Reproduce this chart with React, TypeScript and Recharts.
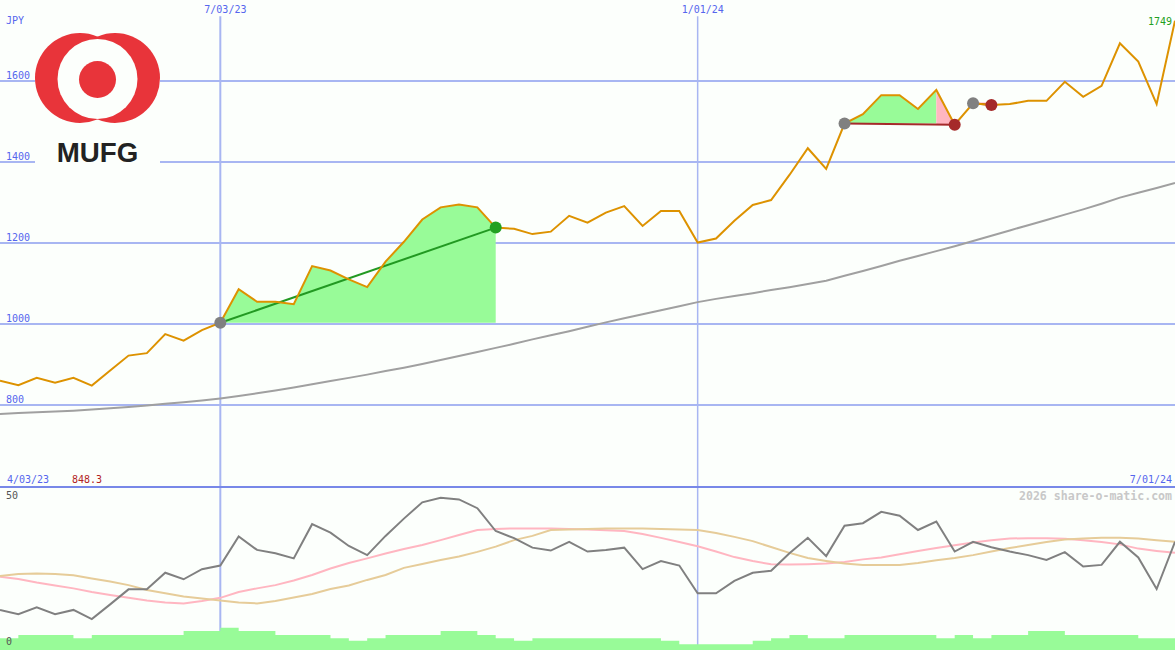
import { ComposedChart, Line, Area, XAxis, YAxis, ReferenceLine } from "recharts"

// weekly closes, 4/03/23 .. 7/01/24
const price = [
  860, 849, 867, 855, 867, 848, 885, 922, 928, 975, 959, 985, 1003,
  1086, 1055, 1055, 1049, 1143, 1132, 1110, 1091, 1154, 1203, 1258, 1288, 1295, 1288, 1238,
  1235, 1222, 1228, 1267, 1250, 1275, 1291, 1242, 1279, 1279, 1201, 1211,
  1255, 1294, 1306, 1368, 1434, 1383, 1495, 1518, 1565, 1565, 1531, 1578, 1492,
  1545, 1541, 1543, 1551, 1551, 1598, 1561, 1588, 1693, 1648, 1543, 1749
]

const movingAvg = [
  778, 780, 782, 784, 786, 789, 792, 795, 799, 803, 807, 811, 816,
  822, 829, 836, 843, 851, 859, 867, 875, 884, 892, 901, 911, 921, 931, 941,
  951, 962, 972, 982, 993, 1004, 1014, 1024, 1034, 1044, 1054,
  1062, 1069, 1076, 1084, 1091, 1099, 1107, 1119, 1131, 1143, 1156, 1168, 1180, 1192,
  1205, 1218, 1231, 1244, 1257, 1270, 1283, 1297, 1312, 1324, 1336, 1348
]

const oscillator = [
  12.3, 11.0, 13.1, 11.0, 12.3, 9.5, 14.0, 18.6, 18.6, 23.7,
  21.7, 24.8, 25.9, 34.8, 30.7, 29.7, 28.1, 38.6, 36.0, 31.9,
  29.1, 35.0, 40.3, 45.3, 46.7, 46.2, 43.5, 36.5, 34.3, 31.4,
  30.5, 33.2, 30.2, 30.7, 31.4, 24.8, 27.3, 25.9, 17.4, 17.4,
  21.2, 23.7, 24.3, 29.7, 34.4, 28.8, 38.1, 38.9, 42.4, 41.2,
  36.8, 39.4, 30.2, 33.2, 31.5, 30.2, 29.1, 27.6, 30.0, 25.6,
  26.1, 33.2, 28.4, 18.7, 33.2
]

const signalFast = [
  22.5, 21.8, 20.7, 19.8, 18.9, 17.8, 16.9, 16.0, 15.2, 14.6,
  14.3, 15.0, 16.0, 17.8, 18.9, 19.9, 21.3, 23.0, 25.0, 26.7,
  28.1, 29.6, 31.0, 32.2, 33.7, 35.3, 36.8, 37.1, 37.3, 37.3,
  37.3, 37.1, 37.0, 36.7, 36.5, 35.6, 34.4, 33.1, 31.8, 30.2,
  28.5, 27.3, 26.3, 26.2, 26.3, 26.5, 27.0, 27.8, 28.4, 29.4,
  30.4, 31.3, 32.1, 33.0, 33.7, 34.2, 34.3, 34.3, 34.1, 33.7,
  33.1, 32.4, 31.1, 30.4, 29.8
]

const signalSlow = [
  22.7, 23.3, 23.5, 23.3, 22.9, 21.9, 21.0, 19.9, 18.4, 17.4,
  16.4, 15.8, 15.2, 14.6, 14.3, 15.0, 16.1, 17.2, 18.7, 19.8,
  21.5, 23.0, 25.2, 26.4, 27.6, 28.7, 30.1, 31.7, 33.7, 35.0,
  36.8, 37.0, 37.1, 37.3, 37.3, 37.3, 37.1, 37.0, 36.8, 35.9,
  34.7, 33.4, 31.6, 29.8, 28.2, 27.3, 26.5, 26.1, 26.1, 26.1,
  26.7, 27.5, 28.2, 29.1, 30.2, 31.3, 32.2, 33.1, 33.9, 34.2,
  34.4, 34.4, 34.2, 33.7, 33.2
]

const volume = [
  3.6, 4.6, 4.6, 4.6, 3.6, 4.6, 4.6, 4.6, 4.6, 4.6,
  5.8, 5.8, 6.8, 5.8, 5.8, 4.6, 4.6, 4.6, 3.6, 2.8,
  3.6, 4.6, 4.6, 4.6, 5.8, 5.8, 4.6, 3.6, 2.8, 3.6,
  3.6, 3.6, 3.6, 3.6, 3.6, 3.6, 2.8, 1.8, 1.8, 1.8,
  1.8, 2.8, 3.6, 4.6, 3.6, 3.6, 4.6, 4.6, 4.6, 4.6,
  4.6, 3.6, 4.6, 3.6, 4.6, 4.6, 5.8, 5.8, 4.6, 4.6,
  4.6, 4.6, 3.6, 3.6, 3.6
]

const priceGrid = [800, 1000, 1200, 1400, 1600]
const dateLines = [12, 38]
const dateLabels = ["7/03/23", "1/01/24"]

// trades: entry / exit week index and price
const tradeEntry = [12, 46, 53]
const tradeExit = [27, 52, 54]
const tradeEntryPrice = [1003, 1495, 1545]
const tradeExitPrice = [1238, 1492, 1541]
const tradeWin = [true, false, false]

// shaded segments [from, to, level]
const gainFills = [[12, 27, 1003], [46, 51, 1495]]
const lossFills = [[51, 52, 1493], [53, 54, 1547]]

const BG = "#FCFFFC"
const GRID = "#A8B6F2"
const BLUE = "#5566EE"
const ORANGE = "#DD9200"
const FONT = "'DejaVu Sans Mono', monospace"

const rows = price.map((p, i) => {
  const row: any = { i, price: p, ma: movingAvg[i], osc: oscillator[i], fast: signalFast[i], slow: signalSlow[i], vol: volume[i] }
  gainFills.forEach(([a, b, lv], k) => {
    row["g" + k] = i >= a && i <= b ? [lv, p] : null
  })
  lossFills.forEach(([a, b, lv], k) => {
    row["l" + k] = i >= a && i <= b ? [lv, p] : null
  })
  tradeEntry.forEach((e, t) => {
    row["t" + t] = i === e ? tradeEntryPrice[t] : i === tradeExit[t] ? tradeExitPrice[t] : null
  })
  return row
})

function tradeDot(t: number) {
  return (props: any) => {
    const { cx, cy, payload, index } = props
    if (cy == null || payload["t" + t] == null) return <g key={"d" + t + "-" + index} />
    const fill = payload.i === tradeEntry[t] ? "#808080" : tradeWin[t] ? "#22A022" : "#A52A2A"
    return <circle key={"d" + t + "-" + index} cx={cx} cy={cy} r={6} fill={fill} />
  }
}

const gridLabel = (text: string) => (props: any) => (
  <text x={props.viewBox.x + 6} y={props.viewBox.y - 2} fill={BLUE} fontSize={10} fontFamily={FONT}>
    {text}
  </text>
)

const dateLabel = (text: string) => (props: any) => (
  <text x={props.viewBox.x - 16} y={props.viewBox.y - 3} fill={BLUE} fontSize={10} fontFamily={FONT}>
    {text}
  </text>
)

export default function App() {
  return (
    <div style={{ position: "relative", width: 1175, height: 650, background: BG, overflow: "hidden" }}>
      <style>{"body{margin:0}"}</style>

      <div style={{ position: "absolute", left: 0, top: 0 }}>
        <ComposedChart width={1175} height={486} data={rows} margin={{ top: 0, right: 0, bottom: 0, left: 0 }}>
          <XAxis type="number" dataKey="i" domain={[0, 64]} hide />
          <YAxis type="number" domain={[600, 1800]} hide />

          {priceGrid.map((v) => (
            <ReferenceLine key={v} y={v} stroke={GRID} strokeWidth={2} zIndex={-10} label={gridLabel(String(v))} />
          ))}
          {dateLines.map((x, k) => (
            <ReferenceLine
              key={x}
              segment={[{ x, y: 1760 }, { x, y: 600 }]}
              stroke={GRID}
              strokeWidth={k === 0 ? 2 : 1.5}
              zIndex={-10}
              label={dateLabel(dateLabels[k])}
            />
          ))}

          <Line dataKey="ma" type="linear" stroke="#A0A0A0" strokeWidth={2} dot={false} activeDot={false} isAnimationActive={false} />

          {gainFills.map((_, k) => (
            <Area key={"g" + k} dataKey={"g" + k} type="linear" stroke="none" fill="#98FB98" fillOpacity={1} dot={false} activeDot={false} isAnimationActive={false} />
          ))}
          {lossFills.map((_, k) => (
            <Area key={"l" + k} dataKey={"l" + k} type="linear" stroke="none" fill="#FFB6C1" fillOpacity={1} dot={false} activeDot={false} isAnimationActive={false} />
          ))}

          {tradeEntry.map((_, t) => (
            <Line
              key={"t" + t}
              dataKey={"t" + t}
              type="linear"
              connectNulls
              stroke={tradeWin[t] ? "#229922" : "#A52A2A"}
              strokeWidth={2}
              dot={tradeDot(t)}
              activeDot={false}
              isAnimationActive={false}
            />
          ))}

          <Line dataKey="price" type="linear" stroke={ORANGE} strokeWidth={2} dot={false} activeDot={false} isAnimationActive={false} />
        </ComposedChart>
      </div>

      <div style={{ position: "absolute", left: 0, top: 486 }}>
        <ComposedChart width={1175} height={164} data={rows} margin={{ top: 1, right: 0, bottom: 0, left: 0 }}>
          <XAxis type="number" dataKey="i" domain={[0, 64]} hide />
          <YAxis type="number" domain={[0, 50]} hide />

          {dateLines.map((x, k) => (
            <ReferenceLine key={x} x={x} stroke={GRID} strokeWidth={k === 0 ? 2 : 1.5} zIndex={-10} />
          ))}
          <ReferenceLine y={50} stroke="#7888E8" strokeWidth={2} />

          <Area dataKey="vol" type="stepAfter" stroke="none" fill="#98FB98" fillOpacity={1} baseValue={0} dot={false} activeDot={false} isAnimationActive={false} />

          <Line dataKey="fast" type="linear" stroke="#FFB6C1" strokeWidth={2} dot={false} activeDot={false} isAnimationActive={false} />
          <Line dataKey="slow" type="linear" stroke="#E6CC99" strokeWidth={2} dot={false} activeDot={false} isAnimationActive={false} />
          <Line dataKey="osc" type="linear" stroke="#808080" strokeWidth={2} dot={false} activeDot={false} isAnimationActive={false} />
        </ComposedChart>
      </div>

      <svg width={1175} height={650} style={{ position: "absolute", left: 0, top: 0, pointerEvents: "none" }}>
        {/* logo */}
        <rect x={35} y={28} width={125} height={140} fill={BG} />
        <circle cx={80} cy={78} r={45} fill="#E8343A" />
        <circle cx={115} cy={78} r={45} fill="#E8343A" />
        <circle cx={97.5} cy={79} r={40} fill={BG} />
        <circle cx={97.5} cy={79.5} r={18.5} fill="#E8343A" />
        <text x={56.7} y={161.5} fontFamily="'Liberation Sans', Arial, sans-serif" fontWeight="bold" fontSize={28} fill="#222" textLength={81.5} lengthAdjust="spacingAndGlyphs">
          MUFG
        </text>

        <g fontFamily={FONT} fontSize={10}>
          <text x={6} y={24} fill={BLUE}>JPY</text>
          <text x={1172} y={25} fill="#22A022" textAnchor="end">1749</text>
          <text x={7} y={483} fill={BLUE}>4/03/23</text>
          <text x={72} y={483} fill="#B22222">848.3</text>
          <text x={1172} y={483} fill={BLUE} textAnchor="end">7/01/24</text>
          <text x={6} y={499} fill="#555">50</text>
          <text x={6} y={645} fill="#555">0</text>
        </g>
        <text x={1172} y={500} fontFamily={FONT} fontSize={11.5} fontWeight="bold" fill="#C8C8C8" textAnchor="end" textLength={153} lengthAdjust="spacingAndGlyphs">
          2026 share-o-matic.com
        </text>
      </svg>
    </div>
  )
}
